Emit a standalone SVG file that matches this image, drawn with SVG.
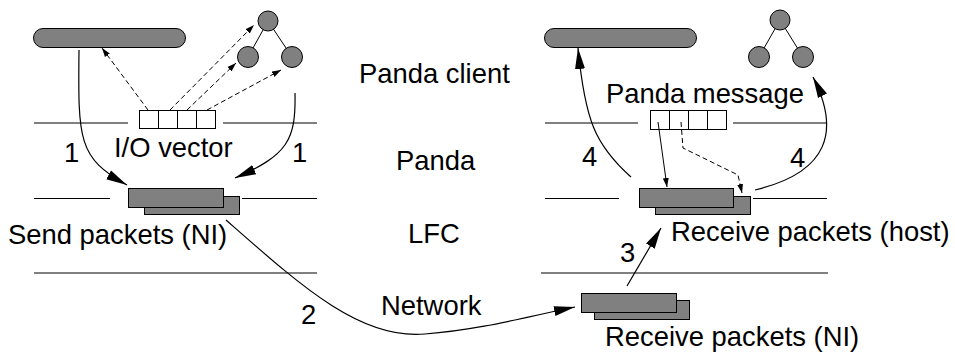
<svg xmlns="http://www.w3.org/2000/svg" width="955" height="353" viewBox="0 0 955 353">
<defs>
<style>
.bg{fill:#fff}
.t{font-family:"Liberation Sans",Arial,sans-serif;font-size:27.4px;fill:#000}
.ln{stroke:#000;stroke-width:1;fill:none}
.sh{fill:#808080;stroke:#000;stroke-width:1}
.cell{fill:#fff;stroke:#000;stroke-width:1}
.big{stroke:#000;stroke-width:1.2;fill:none;marker-end:url(#bigA)}
.dash{stroke:#000;stroke-width:1;fill:none;stroke-dasharray:5 3;marker-end:url(#smA)}
.thin{stroke:#000;stroke-width:1;fill:none;marker-end:url(#smA)}
</style>
<marker id="bigA" markerUnits="userSpaceOnUse" markerWidth="22" markerHeight="12" refX="21" refY="6" orient="auto"><path d="M0,1 L21,6 L0,11 z" fill="#000"/></marker>
<marker id="smA" markerUnits="userSpaceOnUse" markerWidth="10" markerHeight="7" refX="9" refY="3.5" orient="auto"><path d="M0,0.5 L9,3.5 L0,6.5 z" fill="#000"/></marker>
</defs>
<rect class="bg" x="0" y="0" width="955" height="353"/>
<g id="layer-lines">
<path class="ln" d="M34,123 H128 M223,123 H317 M34,198.5 H110 M242,198.5 H317 M34,273 H317"/>
<path class="ln" d="M545,123 H638 M733,123 H827 M545,198.5 H619 M753,198.5 H827 M541,273 H828"/>
</g>
<g id="layer-labels">
<text class="t" x="359" y="83">Panda client</text>
<text class="t" x="396" y="170">Panda</text>
<text class="t" x="408" y="243">LFC</text>
<text class="t" x="381" y="315">Network</text>
</g>
<g id="left-array">
<rect class="sh" x="33.5" y="28.5" width="152" height="19" rx="9.5"/>
</g>
<g id="left-tree">
<path class="ln" d="M268,21 L248,57 M268,21 L292,57"/>
<circle class="sh" cx="268" cy="21" r="10"/>
<circle class="sh" cx="248" cy="57" r="10.5"/>
<circle class="sh" cx="292" cy="57" r="10.5"/>
</g>
<g id="io-vector">
<rect class="cell" x="139.5" y="110.5" width="19" height="18"/>
<rect class="cell" x="158.5" y="110.5" width="19" height="18"/>
<rect class="cell" x="177.5" y="110.5" width="19" height="18"/>
<rect class="cell" x="196.5" y="110.5" width="19" height="18"/>
<text class="t" x="114" y="157">I/O vector</text>
</g>
<g id="send-packets">
<rect class="sh" x="144.5" y="196.5" width="95" height="18"/>
<rect class="sh" x="128.5" y="188.5" width="95" height="19"/>
<text class="t" x="8" y="244">Send packets (NI)</text>
</g>
<g id="recv-ni">
<rect class="sh" x="594.5" y="300.5" width="95" height="19"/>
<rect class="sh" x="581.5" y="293.5" width="95" height="19"/>
<text class="t" x="605" y="346">Receive packets (NI)</text>
</g>
<g id="recv-host">
<rect class="sh" x="655.5" y="196.5" width="95" height="18"/>
<rect class="sh" x="639.5" y="188.5" width="94" height="19"/>
<text class="t" x="671" y="241">Receive packets (host)</text>
</g>
<g id="right-array">
<rect class="sh" x="544.5" y="28.5" width="152" height="19" rx="9.5"/>
</g>
<g id="right-tree">
<path class="ln" d="M780,20 L759,57 M780,20 L803,57"/>
<circle class="sh" cx="780" cy="20" r="10"/>
<circle class="sh" cx="759" cy="57" r="10.5"/>
<circle class="sh" cx="803" cy="57" r="10.5"/>
</g>
<g id="panda-message">
<rect class="cell" x="650.5" y="110.5" width="19" height="19"/>
<rect class="cell" x="669.5" y="110.5" width="19" height="19"/>
<rect class="cell" x="688.5" y="110.5" width="19" height="19"/>
<rect class="cell" x="707.5" y="110.5" width="19" height="19"/>
<text class="t" x="606" y="103">Panda message</text>
</g>
<g id="connectors">
<path class="dash" d="M148,110 L102,48"/>
<path class="dash" d="M170,110 L254,25"/>
<path class="dash" d="M187,110 L236,63"/>
<path class="dash" d="M207,110 L281,70"/>
<path class="big" d="M79,50 C78,140 78,158 127,185"/>
<path class="big" d="M295,93 C296,140 288,155 235,178"/>
<path class="big" d="M226,220 C300,285 360,340 425,334 C480,330 530,316 575,307"/>
<path class="big" d="M627,286 L661,228"/>
<path class="big" d="M631,177 C595,145 585,120 578,48"/>
<path class="big" d="M755,190 C830,172 840,130 813,77"/>
<path class="thin" d="M658,122 L667,187"/>
<path class="dash" d="M681,122 L683,148 L738,175 L742,193"/>
<text class="t" x="64" y="162">1</text>
<text class="t" x="292" y="162">1</text>
<text class="t" x="301" y="324">2</text>
<text class="t" x="620" y="262">3</text>
<text class="t" x="582" y="166">4</text>
<text class="t" x="790" y="167">4</text>
</g>
</svg>
